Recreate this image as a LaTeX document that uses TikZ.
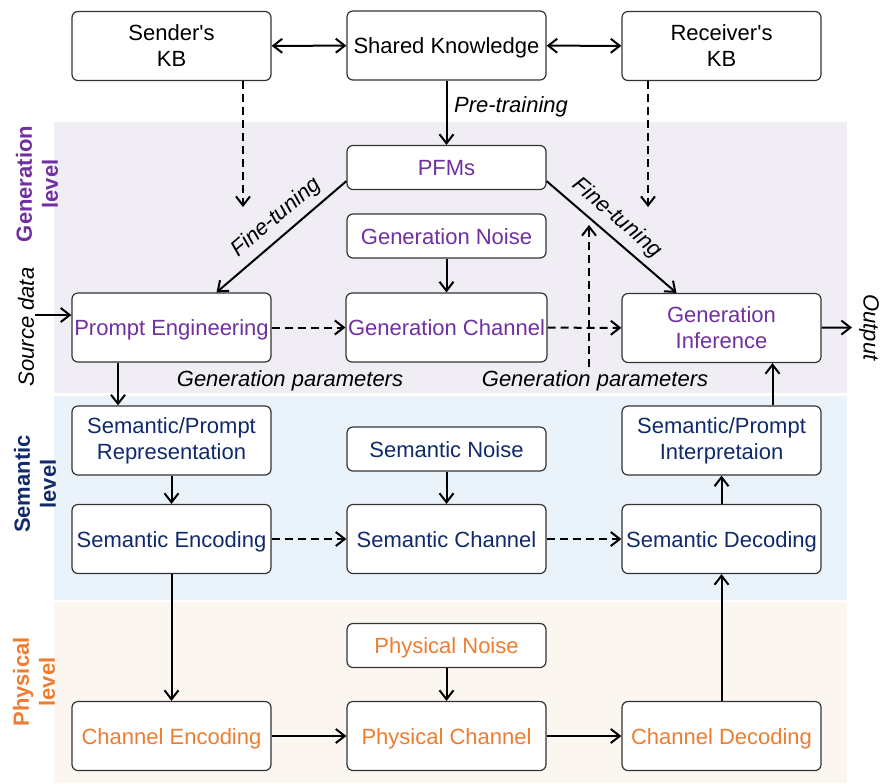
\documentclass[tikz,border=0pt]{standalone}
\usepackage{fontspec}
\setmainfont{Liberation Sans}
\usepackage{tikz}
\usetikzlibrary{arrows.meta}
\usetikzlibrary{calc}
\definecolor{genpurple}{HTML}{7030A0}
\definecolor{semnavy}{HTML}{102A6B}
\definecolor{phyorange}{HTML}{ED7D31}
\definecolor{genband}{HTML}{F0EEF4}
\definecolor{semband}{HTML}{EBF3FA}
\definecolor{phyband}{HTML}{FBF6F0}
\newcommand{\figfont}{\fontsize{11}{13}\selectfont}
\tikzset{every edge/.style={draw, line width=1pt}}
\tikzset{
  blk/.style={draw=black!80, line width=0.6pt, fill=white, rounded corners=3pt,
    minimum width=99.5pt, minimum height=34.5pt, align=center, inner sep=1pt, font=\figfont},
  thin blk/.style={blk, minimum height=22pt},
  one/.style={text height=8pt, text depth=0pt},
  lvl/.style={rotate=90, align=center, font=\figfont\bfseries},
  lbl/.style={font=\figfont\itshape},
  kbdash/.style={dash pattern=on 4pt off 2.5pt},
  >={Straight Barb[length=4.5pt,width=7pt]}
}

\begin{document}
\begin{tikzpicture}[x=0.5pt, y=-0.5pt]
    \useasboundingbox (0,0) rectangle (881,783);
    % bands
    \fill[genband] (54,122) rectangle (847,393);
    \fill[semband] (54,396) rectangle (847,600);
    \fill[phyband] (54,602) rectangle (847,783);

    \node[lvl, text=genpurple] at (37,184) (genlvl) {Generation\\level};
    \node[lvl, text=semnavy] at (35,484) (semlvl) {Semantic\\level};
    \node[lvl, text=phyorange] at (34,682) (phylvl) {Physical\\level};

    % knowledge bases
    \node[blk] at (171.5,46) (skb) {Sender\textquotesingle s\\KB};
    \node[blk, one] at (446.5,45.5) (shk) {Shared Knowledge};
    \node[blk] at (721.5,46) (rkb) {Receiver\textquotesingle s\\KB};

    % generation level
    \node[thin blk, one, text=genpurple] at (446.5,167.5) (pfm) {PFMs};
    \node[thin blk, one, text=genpurple] at (446.5,236) (gnoise) {Generation Noise};
    \node[blk, one, text=genpurple] at (171.5,327.5) (pe) {Prompt Engineering};
    \node[blk, one, text=genpurple] at (446.5,327.5) (gch) {Generation Channel};
    \node[blk, text=genpurple] at (721.5,328) (ginf) {Generation\\Inference};

    % semantic level
    \node[blk, text=semnavy] at (171.5,440.5) (spr) {Semantic/Prompt\\Representation};
    \node[thin blk, one, text=semnavy] at (446.5,449) (snoise) {Semantic Noise};
    \node[blk, text=semnavy] at (721.5,440.5) (spi) {Semantic/Prompt\\Interpretaion};
    \node[blk, one, text=semnavy] at (171.5,539) (senc) {Semantic Encoding};
    \node[blk, one, text=semnavy] at (446.5,539) (sch) {Semantic Channel};
    \node[blk, one, text=semnavy] at (721.5,539) (sdec) {Semantic Decoding};

    % physical level
    \node[thin blk, one, text=phyorange] at (446.5,645.5) (pnoise) {Physical Noise};
    \node[blk, one, text=phyorange] at (171.5,736) (cenc) {Channel Encoding};
    \node[blk, one, text=phyorange] at (446.5,736) (pch) {Physical Channel};
    \node[blk, one, text=phyorange] at (721.5,736) (cdec) {Channel Decoding};

    % side texts
    \node[lbl, rotate=90] at (26,327) (srclbl) {Source data};
    \node[lbl, rotate=-90, inner sep=0.5pt] at (869,327.5) (outlbl) {Output};
    \node[lbl] at (290,381) (gpl) {Generation parameters};
    \node[lbl] at (595,381) (gpr) {Generation parameters};

    \coordinate (sftip) at (243,207);
    \coordinate (rftip) at (648,207);
    \coordinate (gpbot) at (589,367);
    \coordinate (gptop) at (589,225);
    \coordinate (srcin) at (35,315);
    \coordinate (outend) at (852,327.5);

    \draw (skb) edge[<->] (shk);
    \draw (shk) edge[<->] (rkb);
    \draw (shk) edge[->] node[right, lbl, pos=0.4] {Pre-training} (pfm);
    \draw ([xshift=35.75pt]skb.south) edge[->, kbdash] (sftip);
    \draw ([xshift=-36.75pt]rkb.south) edge[->, kbdash] (rftip);

    \draw ([yshift=4.5pt]pfm.south west) edge[->] node[sloped, above, lbl, pos=0.45] {Fine-tuning} ([xshift=22.5pt]pe.north);
    \draw ([yshift=4.5pt]pfm.south east) edge[->] node[sloped, above, lbl, pos=0.45] {Fine-tuning} ([xshift=-22.5pt]ginf.north);
    \draw (gnoise) edge[->] (gch);
    \draw (pe) edge[->, kbdash] (gch);
    \draw (gch) edge[->, kbdash] (ginf);
    \draw (gpbot) edge[->, kbdash] (gptop);
    \draw (srcin) edge[->] ([yshift=6.25pt]pe.west);
    \draw (ginf) edge[->] (outend);

    \draw ([xshift=-26.75pt]pe.south) edge[->] ([xshift=-26.75pt]spr.north);
    \draw (spr) edge[->] (senc);
    \draw (snoise) edge[->] (sch);
    \draw (senc) edge[->, kbdash] (sch);
    \draw (sch) edge[->, kbdash] (sdec);
    \draw (sdec) edge[->] (spi);
    \draw ([xshift=25.5pt]spi.north) edge[->] ([xshift=25.5pt]ginf.south);

    \draw (senc) edge[->] (cenc);
    \draw (pnoise) edge[->] (pch);
    \draw (cenc) edge[->] (pch);
    \draw (pch) edge[->] (cdec);
    \draw (cdec) edge[->] (sdec);
\end{tikzpicture}
\end{document}
